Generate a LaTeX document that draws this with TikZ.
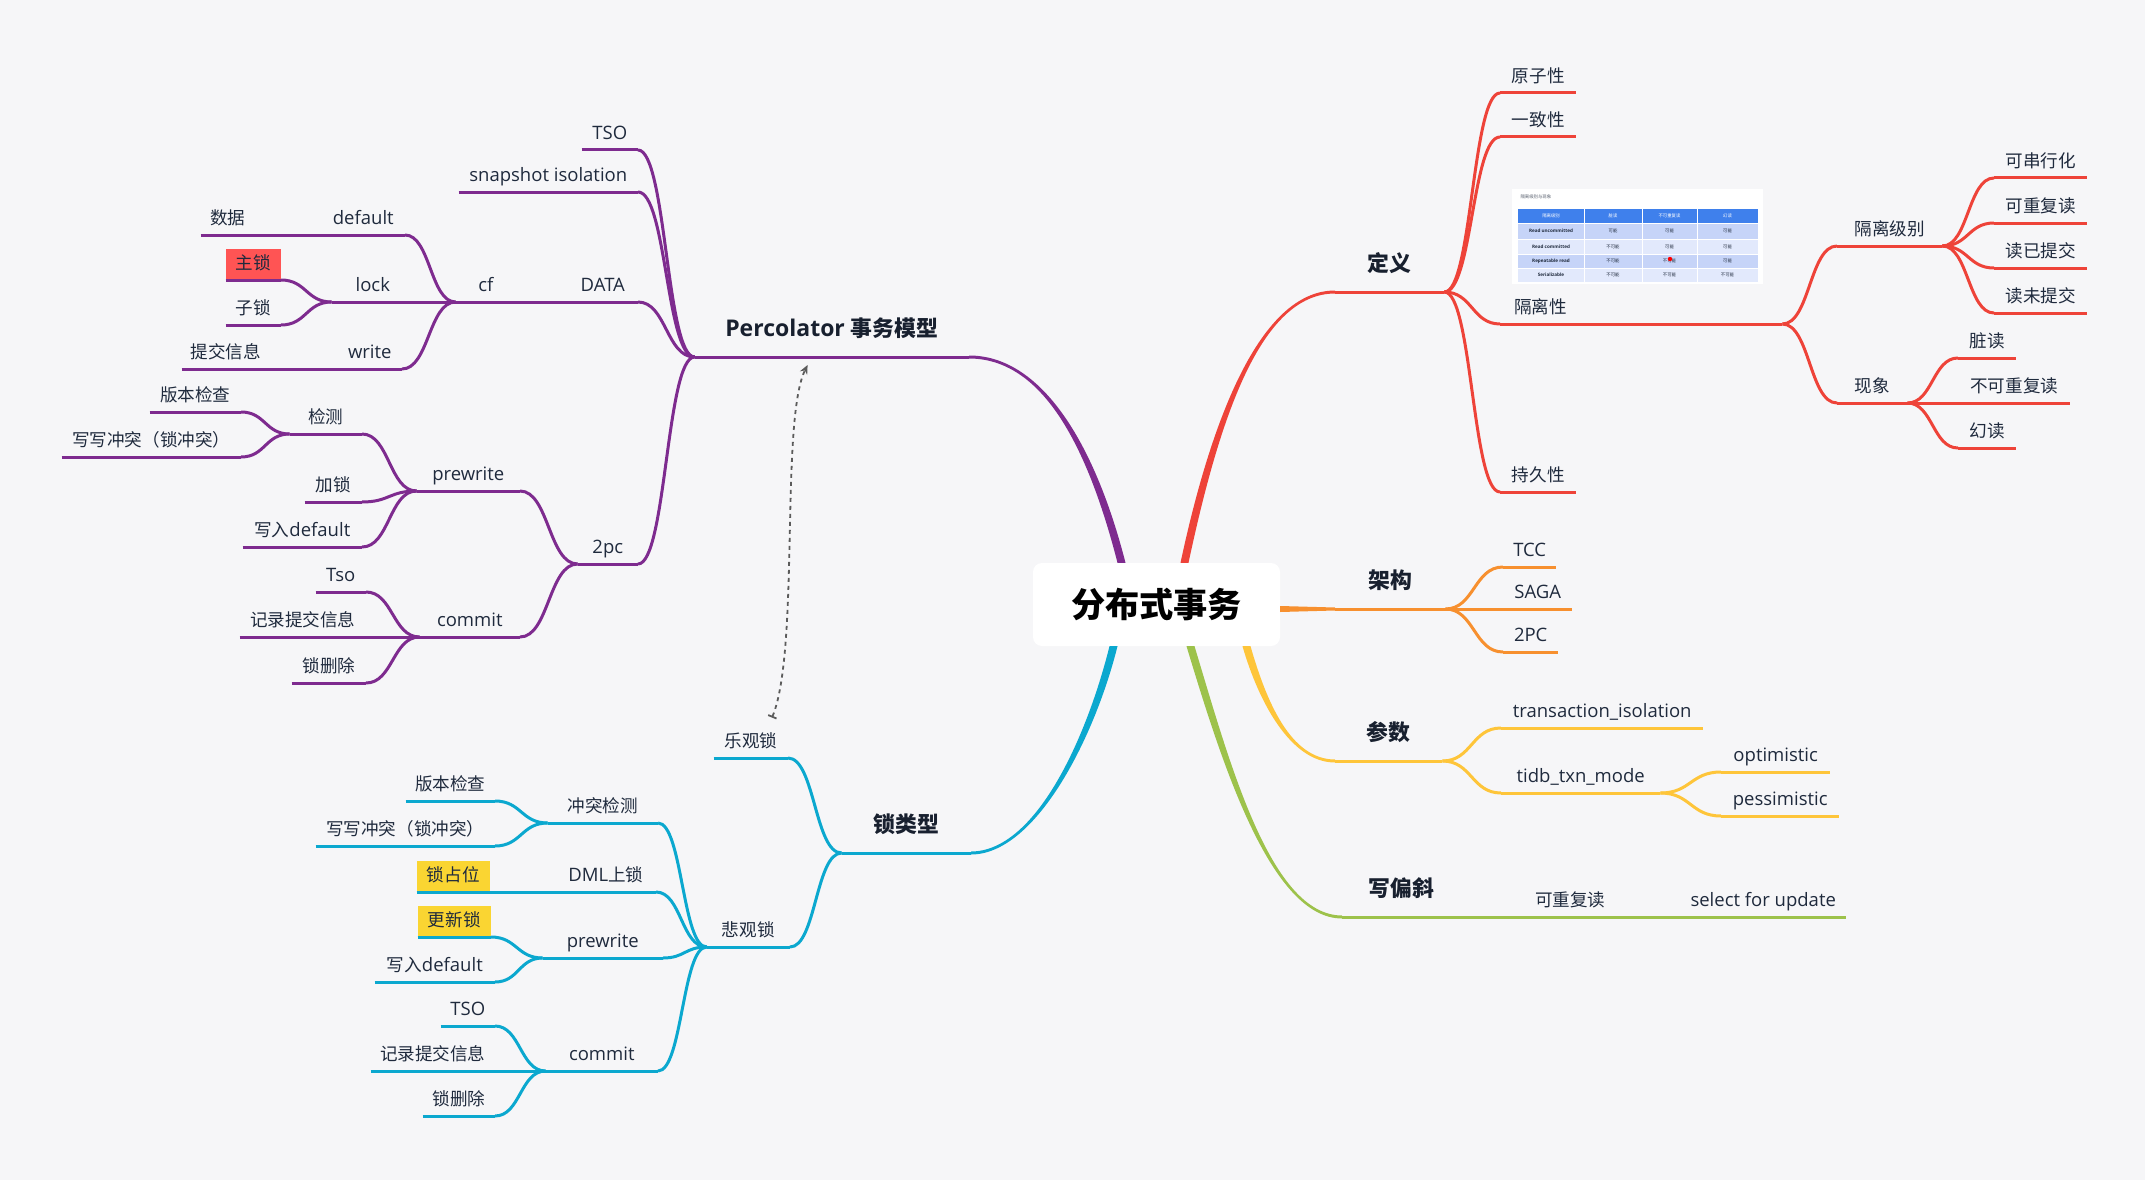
\documentclass[tikz,border=0pt]{standalone}
\usepackage{fontspec}
\setmainfont{Open Sans}
\newfontfamily\cjk{Noto Sans CJK SC}[Scale=0.95]
\usetikzlibrary{calc,arrows.meta}

\definecolor{bgc}{HTML}{F6F6F8}
\definecolor{ink}{HTML}{1F2A3D}
\definecolor{inkb}{HTML}{18202F}
\definecolor{pcol}{HTML}{7E2B8F}
\definecolor{rcol}{HTML}{EE4339}
\definecolor{ocol}{HTML}{F7902F}
\definecolor{ycol}{HTML}{FEC53A}
\definecolor{gcol}{HTML}{9DC24B}
\definecolor{ccol}{HTML}{0BA8CF}
\definecolor{hlred}{HTML}{FF5454}
\definecolor{hlyel}{HTML}{FAD532}
\definecolor{tblhead}{HTML}{3F80EC}
\definecolor{tbldark}{HTML}{C6D4F8}
\definecolor{tbllight}{HTML}{E2E9FC}
\definecolor{linkgray}{HTML}{5B5B5B}
\colorlet{br}{black}

\newcommand\tpfont{\fontsize{18.5}{22}\selectfont}
\newcommand\mnfont{\fontsize{23}{27}\selectfont\bfseries}
\newcommand\rtfont{\fontsize{36}{42}\selectfont\bfseries}
\newcommand\tbfont{\fontsize{4.6}{5.5}\selectfont}

\tikzset{
  topic/.style={inner xsep=0pt, inner ysep=10pt, text height=11pt, text depth=0pt, font=\tpfont, text=ink},
  lt/.style={topic, anchor=south east},
  rt/.style={topic, anchor=south west},
  mtopic/.style={inner ysep=20pt, font=\mnfont, text=inkb},
  hl/.style={fill=#1},
  rootbox/.style={fill=white, rounded corners=9pt, minimum width=247pt, minimum height=83pt, inner sep=0pt, font=\rtfont, text=black},
  ul/.style={draw=br, line width=3pt},
  mainbr/.style={fill=br},
  branch/.style={draw=br, line width=3pt,
    to path={let \p1=(\tikztostart), \p2=(\tikztotarget), \p3=($(\p1)!0.5!(\p2)$) in
      .. controls (\x3,\y1) and (\x3,\y2) .. (\tikztotarget)}},
  cell/.style={inner sep=0pt, font=\tbfont, text=ink},
  link/.style={draw=linkgray, line width=1.8pt, dash pattern=on 4pt off 4pt,
    {Bar[width=9pt,line width=1.8pt]}-{Stealth[length=9pt,width=8pt]}}
}

\begin{document}
\begin{tikzpicture}[x=1pt, y=-1pt]
  % background
  \fill[bgc] (0,0) rectangle (2145,1180);

  % central topic
  \node[rootbox] (rootbox) at (1156.5,604.5) {\cjk 分布式事务};

  % Percolator
  \begin{scope}
    \colorlet{br}{pcol}
    \node[lt, mtopic, minimum width=274pt] (pc) at (969,357) {Percolator {\cjk 事务模型}};
    \node[lt, minimum width=56pt] (tso) at (638,150) {TSO};
    \node[lt, minimum width=179pt] (si) at (638,192) {snapshot isolation};
    \node[lt, minimum width=70pt] (data) at (638,302) {DATA};
    \node[lt, minimum width=60pt] (cf) at (516,302) {cf};
    \node[lt, minimum width=83pt] (dft) at (405,235) {default};
    \node[lt, minimum width=54pt] (sj) at (255,235) {\cjk 数据};
    \node[lt, minimum width=82pt] (lock) at (414,302) {lock};
    \node[lt, hl=hlred, minimum width=55pt] (zs) at (281,280) {\cjk 主锁};
    \node[lt, minimum width=55pt] (zis) at (281,325) {\cjk 子锁};
    \node[lt, minimum width=64pt] (wr) at (402,369) {write};
    \node[lt, minimum width=88pt] (tj) at (270,369) {\cjk 提交信息};
    \node[lt, minimum width=60pt] (tpc) at (638,564) {2pc};
    \node[lt, minimum width=103pt] (pw) at (520,491) {prewrite};
    \node[lt, minimum width=100pt] (cm) at (520,637) {commit};
    \node[lt, minimum width=72pt] (jc) at (362,434) {\cjk 检测};
    \node[lt, minimum width=91pt] (bb) at (241,412) {\cjk 版本检查};
    \node[lt, minimum width=179pt] (xx) at (241,457) {\cjk 写写冲突（锁冲突）};
    \node[lt, minimum width=57pt] (js) at (362,502) {\cjk 加锁};
    \node[lt, minimum width=119pt] (xr) at (362,547) {{\cjk 写入}default};
    \node[lt, minimum width=50pt] (tsob) at (366,592) {Tso};
    \node[lt, minimum width=126pt] (jl) at (366,637) {\cjk 记录提交信息};
    \node[lt, minimum width=74pt] (sc) at (366,683) {\cjk 锁删除};

    \fill[mainbr] ([xshift=-39pt]rootbox.north) .. controls (1086,440) and (1040,358.5) .. ([yshift=-1.5pt]pc.south east)
      -- ([yshift=1.5pt]pc.south east) .. controls (1040,355.5) and (1094,440) .. ([xshift=-31pt]rootbox.north) -- cycle;
    \foreach \n in {pc,tso,si,data,cf,dft,sj,lock,zs,zis,wr,tj,tpc,pw,cm,jc,bb,xx,js,xr,tsob,jl,sc}
      \draw[ul] (\n.south west) -- (\n.south east);
    \foreach \ch/\pa in {tso/pc,si/pc,data/pc,tpc/pc,cf/data,dft/cf,lock/cf,wr/cf,sj/dft,zs/lock,zis/lock,
        tj/wr,pw/tpc,cm/tpc,jc/pw,js/pw,xr/pw,bb/jc,xx/jc,tsob/cm,jl/cm,sc/cm}
      \draw[branch] (\ch.south east) to (\pa.south west);
  \end{scope}

  % lock types
  \begin{scope}
    \colorlet{br}{ccol}
    \node[lt, mtopic, minimum width=129pt] (lx) at (971,853) {\cjk 锁类型};
    \node[lt, minimum width=74pt] (lg) at (788,758) {\cjk 乐观锁};
    \node[lt, minimum width=83pt] (bg) at (790,947) {\cjk 悲观锁};
    \node[lt, minimum width=110pt] (ct) at (658,823) {\cjk 冲突检测};
    \node[lt, minimum width=89pt] (bbb) at (495,801) {\cjk 版本检查};
    \node[lt, minimum width=179pt] (xxb) at (495,846) {\cjk 写写冲突（锁冲突）};
    \node[lt, minimum width=100pt] (dml) at (656,892) {DML{\cjk 上锁}};
    \node[lt, hl=hlyel, minimum width=73pt] (zw) at (490,892) {\cjk 锁占位};
    \node[lt, minimum width=120pt] (pwb) at (663,958) {prewrite};
    \node[lt, hl=hlyel, minimum width=73pt] (gx) at (491,937) {\cjk 更新锁};
    \node[lt, minimum width=120pt] (xrb) at (495,982) {{\cjk 写入}default};
    \node[lt, minimum width=112pt] (cmb) at (658,1071) {commit};
    \node[lt, minimum width=54pt] (tsoc) at (495,1026) {TSO};
    \node[lt, minimum width=124pt] (jlb) at (495,1071) {\cjk 记录提交信息};
    \node[lt, minimum width=72pt] (scb) at (495,1116) {\cjk 锁删除};

    \fill[mainbr] ([xshift=-47pt]rootbox.south) .. controls (1086,740) and (1035,851.5) .. ([yshift=1.5pt]lx.south east)
      -- ([yshift=-1.5pt]lx.south east) .. controls (1035,854.5) and (1094,740) .. ([xshift=-39pt]rootbox.south) -- cycle;
    \foreach \n in {lx,lg,bg,ct,bbb,xxb,dml,zw,pwb,gx,xrb,cmb,tsoc,jlb,scb}
      \draw[ul] (\n.south west) -- (\n.south east);
    \foreach \ch/\pa in {lg/lx,bg/lx,ct/bg,dml/bg,pwb/bg,cmb/bg,bbb/ct,xxb/ct,zw/dml,gx/pwb,xrb/pwb,
        tsoc/cmb,jlb/cmb,scb/cmb}
      \draw[branch] (\ch.south east) to (\pa.south west);
  \end{scope}

  % definition
  \begin{scope}
    \colorlet{br}{rcol}
    \node[rt, mtopic, minimum width=109pt] (dy) at (1335,292) {\cjk 定义};
    \node[rt, minimum width=76pt] (yz) at (1500,93) {\cjk 原子性};
    \node[rt, minimum width=76pt] (yzx) at (1500,137) {\cjk 一致性};
    \node[rt, inner xsep=14pt, text width=254pt, align=left] (gl) at (1500,324) {\cjk 隔离性};
    \node[rt, minimum width=76pt] (cj) at (1500,492) {\cjk 持久性};
    \node[rt, minimum width=105pt] (gj) at (1837,246) {\cjk 隔离级别};
    \node[rt, minimum width=70pt] (xxg) at (1837,403) {\cjk 现象};
    \node[rt, minimum width=93pt] (kc) at (1994,178) {\cjk 可串行化};
    \node[rt, minimum width=93pt] (kcf) at (1994,223) {\cjk 可重复读};
    \node[rt, minimum width=93pt] (dyt) at (1994,268) {\cjk 读已提交};
    \node[rt, minimum width=93pt] (dwt) at (1994,313) {\cjk 读未提交};
    \node[rt, minimum width=58pt] (zd) at (1958,358) {\cjk 脏读};
    \node[rt, minimum width=112pt] (bkc) at (1958,403) {\cjk 不可重复读};
    \node[rt, minimum width=58pt] (hd) at (1958,448) {\cjk 幻读};

    \fill[mainbr] ([xshift=24pt]rootbox.north) .. controls (1211,420) and (1260,290.5) .. ([yshift=1.5pt]dy.south west)
      -- ([yshift=-1.5pt]dy.south west) .. controls (1260,293.5) and (1219,420) .. ([xshift=32pt]rootbox.north) -- cycle;
    \foreach \n in {dy,yz,yzx,gl,cj,gj,xxg,kc,kcf,dyt,dwt,zd,bkc,hd}
      \draw[ul] (\n.south west) -- (\n.south east);
    \foreach \pa/\ch in {dy/yz,dy/yzx,dy/gl,dy/cj,gl/gj,gl/xxg,gj/kc,gj/kcf,gj/dyt,gj/dwt,xxg/zd,xxg/bkc,xxg/hd}
      \draw[branch] (\pa.south east) to (\ch.south west);

    % table picture in the isolation topic
    \fill[white] (1512,189) rectangle (1763,284);
    \node[anchor=west, font=\tbfont, text=ink!75] (tbtitle) at (1517,197) {\cjk 隔离级别与现象};
    \fill[tblhead] (1518,209) rectangle (1758,223);
    \fill[tbldark] (1518,223) rectangle (1758,239);
    \fill[tbllight] (1518,239) rectangle (1758,254);
    \fill[tbldark] (1518,254) rectangle (1758,268);
    \fill[tbllight] (1518,268) rectangle (1758,282);
    \foreach \xx in {1584,1642,1697}
      \draw[white, line width=0.7pt] (\xx,209) -- (\xx,282);
    \foreach \yy in {223,239,254,268}
      \draw[white, line width=0.7pt] (1518,\yy) -- (1758,\yy);
    \foreach \cx/\txt [count=\i] in {1551/隔离级别,1613/脏读,1669.5/不可重复读,1727.5/幻读}
      \node[cell, text=white] (th\i) at (\cx,216) {\cjk \txt};
    \foreach \cy/\lab/\va/\vb/\vc [count=\i] in {231/Read uncommitted/可能/可能/可能,
        246.5/Read committed/不可能/可能/可能, 261/Repeatable read/不可能/不可能/可能,
        275/Serializable/不可能/不可能/不可能} {
      \node[cell, font=\tbfont\bfseries] (ra\i) at (1551,\cy) {\lab};
      \node[cell] (rb\i) at (1613,\cy) {\cjk \va};
      \node[cell] (rc\i) at (1669.5,\cy) {\cjk \vb};
      \node[cell] (rd\i) at (1727.5,\cy) {\cjk \vc};
    }
    \fill[red] (1670,259) circle (2.2pt);
  \end{scope}

  % architecture
  \begin{scope}
    \colorlet{br}{ocol}
    \node[rt, mtopic, minimum width=110pt] (jg) at (1335,609) {\cjk 架构};
    \node[rt, minimum width=53pt] (tcc) at (1503,567) {TCC};
    \node[rt, minimum width=69pt] (saga) at (1503,609) {SAGA};
    \node[rt, minimum width=55pt] (tpcc) at (1503,652) {2PC};

    \fill[mainbr] ([yshift=-1.5pt]rootbox.east) -- ([yshift=1.5pt]jg.south west) -- ([yshift=-1.5pt]jg.south west)
      -- ([yshift=-7.5pt]rootbox.east) -- cycle;
    \foreach \n in {jg,tcc,saga,tpcc}
      \draw[ul] (\n.south west) -- (\n.south east);
    \foreach \ch in {tcc,saga,tpcc}
      \draw[branch] (jg.south east) to (\ch.south west);
  \end{scope}

  % parameters
  \begin{scope}
    \colorlet{br}{ycol}
    \node[rt, mtopic, minimum width=107pt] (cs) at (1335,761) {\cjk 参数};
    \node[rt, minimum width=202pt] (ti) at (1501,728) {transaction\_isolation};
    \node[rt, minimum width=159pt] (tm) at (1501,793) {tidb\_txn\_mode};
    \node[rt, minimum width=109pt] (op) at (1721,772) {optimistic};
    \node[rt, minimum width=118pt] (ps) at (1721,816) {pessimistic};

    \fill[mainbr] ([xshift=86pt]rootbox.south) .. controls (1258,700) and (1290,762.5) .. ([yshift=-1.5pt]cs.south west)
      -- ([yshift=1.5pt]cs.south west) .. controls (1290,759.5) and (1266,700) .. ([xshift=94pt]rootbox.south) -- cycle;
    \foreach \n in {cs,ti,tm,op,ps}
      \draw[ul] (\n.south west) -- (\n.south east);
    \foreach \pa/\ch in {cs/ti,cs/tm,tm/op,tm/ps}
      \draw[branch] (\pa.south east) to (\ch.south west);
  \end{scope}

  % write skew
  \begin{scope}
    \colorlet{br}{gcol}
    \node[rt, mtopic, minimum width=119pt] (xpx) at (1342,917) {\cjk 写偏斜};
    \node[rt, minimum width=90pt] (kcfb) at (1525,917) {\cjk 可重复读};
    \node[rt, minimum width=166pt] (sfu) at (1680,917) {select for update};

    \fill[mainbr] ([xshift=30pt]rootbox.south) .. controls (1221,760) and (1270,918.5) .. ([yshift=-1.5pt]xpx.south west)
      -- ([yshift=1.5pt]xpx.south west) .. controls (1270,915.5) and (1229,760) .. ([xshift=38pt]rootbox.south) -- cycle;
    \foreach \n in {xpx,kcfb,sfu}
      \draw[ul] (\n.south west) -- (\n.south east);
    \draw[branch] (xpx.south east) to (kcfb.south west);
    \draw[branch] (kcfb.south east) to (sfu.south west);
  \end{scope}

  % link from optimistic lock to Percolator
  \draw[link] ([xshift=-16pt,yshift=9pt]lg.north east) .. controls (800,650) and (780,420) .. ([xshift=113pt,yshift=-8pt]pc.south west);
\end{tikzpicture}
\end{document}
